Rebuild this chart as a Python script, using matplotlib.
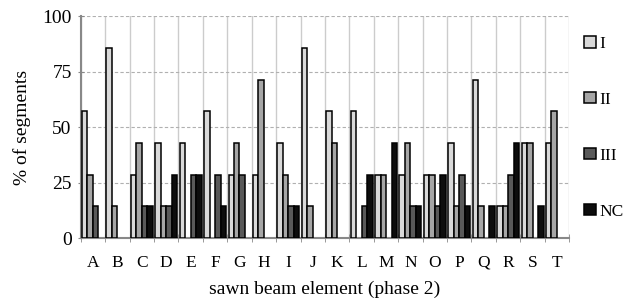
import numpy as np
import matplotlib
matplotlib.use('Agg')
import matplotlib.pyplot as plt
from matplotlib.patches import Patch

plt.rcParams['font.family'] = ['Liberation Serif', 'DejaVu Serif']

elements = list('ABCDEFGHIJKLMNOPQRST')
series = ['I', 'II', 'III', 'NC']
s1 = [57.1, 85.7, 28.6, 42.9, 42.9, 57.1, 28.6, 28.6, 42.9, 85.7,
      57.1, 57.1, 28.6, 28.6, 28.6, 42.9, 71.4, 14.3, 42.9, 42.9]
s2 = [28.6, 14.3, 42.9, 14.3, 0, 0, 42.9, 71.4, 28.6, 14.3,
      42.9, 0, 28.6, 42.9, 28.6, 14.3, 14.3, 14.3, 42.9, 57.1]
s3 = [14.3, 0, 14.3, 14.3, 28.6, 28.6, 28.6, 0, 14.3, 0,
      0, 14.3, 0, 14.3, 14.3, 28.6, 0, 28.6, 0, 0]
nc = [0, 0, 14.3, 28.6, 28.6, 14.3, 0, 0, 14.3, 0,
      0, 28.6, 42.9, 14.3, 28.6, 14.3, 14.3, 42.9, 14.3, 0]
colors = ['#d9d9d9', '#a6a6a6', '#595959', '#0d0d0d']

fig = plt.figure(figsize=(6.31, 3.04), dpi=100)
ax = fig.add_axes([0.128, 0.217, 0.774, 0.73])

x = np.arange(len(elements))
w = 0.225
for k, vals in enumerate([s1, s2, s3, nc]):
    vals = np.array(vals, dtype=float)
    m = vals > 0
    ax.bar(x[m] + (k - 1.5) * w, vals[m], width=w, color=colors[k],
           edgecolor='black', linewidth=1.1, zorder=3)

ax.set_xlim(-0.5, len(elements) - 0.5)
ax.set_ylim(0, 100)
ax.set_yticks([0, 25, 50, 75, 100])
ax.set_xticks(x)
ax.set_xticklabels(elements)
ax.set_xticks(np.arange(len(elements) + 1) - 0.5, minor=True)
ax.tick_params(axis='x', which='major', length=0, pad=12, labelsize=12.5)
ax.tick_params(axis='x', which='minor', length=6, direction='inout', color='#888888')
ax.tick_params(axis='y', length=5, direction='inout', color='#888888', labelsize=14, pad=4)

ax.grid(axis='x', which='minor', color='#cccccc', linewidth=1, zorder=0)
ax.grid(axis='y', which='major', color='#b0b0b0', linestyle=(0, (3, 2)), linewidth=0.8, zorder=0)
ax.grid(axis='x', which='major', visible=False)

for s in ['top', 'right']:
    ax.spines[s].set_visible(False)
for s in ['left', 'bottom']:
    ax.spines[s].set_color('#888888')
    ax.spines[s].set_linewidth(1.5)

ax.set_ylabel('% of segments', fontsize=14, labelpad=8)
ax.set_xlabel('sawn beam element (phase 2)', fontsize=14, labelpad=7)

handles = [Patch(facecolor=c, edgecolor='black', linewidth=1.1) for c in colors]
fig.legend(handles, series, loc='upper left', bbox_to_anchor=(0.915, 0.905),
           frameon=False, fontsize=12.5, handlelength=0.65, handleheight=0.65,
           handletextpad=0.2, labelspacing=2.3, borderaxespad=0)

fig.savefig('out.png', dpi=100)
